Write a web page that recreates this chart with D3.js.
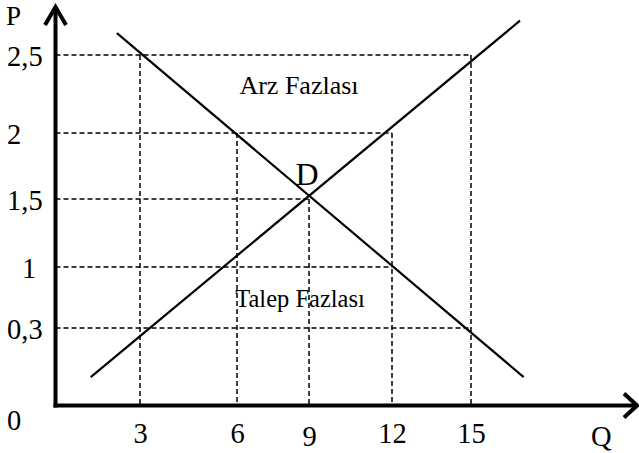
<!DOCTYPE html>
<html>
<head>
<meta charset="utf-8">
<script src="https://cdn.jsdelivr.net/npm/d3@7/dist/d3.min.js"></script>
<style>
  html, body { margin: 0; padding: 0; background: #fff; }
  svg { display: block; }
  text { font-family: "Liberation Serif", "Times New Roman", serif; fill: #000; }
</style>
</head>
<body>
<svg id="chart" width="639" height="453"></svg>
<script>
// ---- data ----
const quantities = [3, 6, 9, 12, 15];
const quantityLabels = ["3", "6", "9", "12", "15"];
const prices = [0.3, 1, 1.5, 2, 2.5];
const priceLabels = ["0,3", "1", "1,5", "2", "2,5"];
// horizontal dashed guides: each price runs out to this quantity
const priceGuideQ = [15, 12, 9, 12, 15];
// vertical dashed guides: each quantity runs up to this price
const quantityGuideP = [2.5, 2, 1.5, 2, 2.5];
// demand (falling) and supply (rising) lines: [Q, P] end points
const demand = [[2.18, 2.64], [17.0, 0.11]];
const supply = [[1.25, 0.11], [16.86, 2.72]];
const equilibrium = [9, 1.5];

// ---- scales (hand-drawn, unevenly spaced grid) ----
const x = d3.scaleLinear().domain([0, 3, 6, 9, 12, 15]).range([55.5, 140, 237, 309, 392, 471]);
const y = d3.scaleLinear().domain([0, 0.3, 1, 1.5, 2, 2.5]).range([405.5, 328, 267, 199, 133, 55]);

const svg = d3.select("#chart");

// dashed guides
const dash = svg.append("g")
  .attr("stroke", "#000").attr("stroke-width", 1.5)
  .attr("stroke-dasharray", "5,3").attr("fill", "none");
prices.forEach((p, i) => {
  dash.append("line")
    .attr("x1", x(0)).attr("x2", x(priceGuideQ[i]))
    .attr("y1", y(p)).attr("y2", y(p));
});
quantities.forEach((q, i) => {
  dash.append("line")
    .attr("x1", x(q)).attr("x2", x(q))
    .attr("y1", y(quantityGuideP[i])).attr("y2", y(0));
});

// demand & supply
const line = d3.line().x(d => x(d[0])).y(d => y(d[1]));
[demand, supply].forEach(d => {
  svg.append("path").attr("d", line(d))
    .attr("fill", "none").attr("stroke", "#000").attr("stroke-width", 2.2);
});

// axes (thick lines + open arrowheads)
const axes = svg.append("g").attr("stroke", "#000").attr("stroke-width", 4)
  .attr("fill", "none").attr("stroke-linecap", "butt");
axes.append("line").attr("x1", x(0)).attr("x2", x(0)).attr("y1", y(0) + 2).attr("y2", 7);
axes.append("line").attr("x1", x(0) - 2).attr("x2", 636).attr("y1", y(0)).attr("y2", y(0));
axes.append("polyline").attr("points", `${x(0) - 10.5},25 ${x(0)},7 ${x(0) + 10.5},25`)
  .attr("stroke-linejoin", "miter");
axes.append("polyline").attr("points", `624,${y(0) - 12} 637,${y(0)} 624,${y(0) + 12}`)
  .attr("stroke-linejoin", "miter");

// y tick labels via d3 axis
const yAxis = svg.append("g").attr("transform", `translate(${x(0)},0)`)
  .call(d3.axisLeft(y).tickValues(prices).tickSize(0)
    .tickFormat((d, i) => priceLabels[i]));
yAxis.select(".domain").remove();
yAxis.selectAll("text")
  .attr("font-family", "Liberation Serif").attr("font-size", 28.5)
  .attr("text-anchor", "start")
  .attr("x", d => (d === 1 ? 22 : 7) - x(0))
  .attr("dy", "0.36em");

// x tick labels via d3 axis
const xAxis = svg.append("g").attr("transform", `translate(0,${y(0)})`)
  .call(d3.axisBottom(x).tickValues(quantities).tickSize(0)
    .tickFormat((d, i) => quantityLabels[i]));
xAxis.select(".domain").remove();
xAxis.selectAll("text")
  .attr("font-family", "Liberation Serif").attr("font-size", 28.5)
  .attr("y", d => (d === 9 ? 40 : 37.5)).attr("dy", 0);

// axis titles and annotations
svg.append("text").attr("x", 6).attr("y", 25).attr("font-size", 27).text("P");
svg.append("text").attr("x", 591).attr("y", 446).attr("font-size", 28.5).text("Q");
svg.append("text").attr("x", 7).attr("y", 430).attr("font-size", 28.5).text("0");
svg.append("text").attr("x", x(equilibrium[0]) - 2).attr("y", y(equilibrium[1]) - 14)
  .attr("font-size", 32).attr("text-anchor", "middle").text("D");
svg.append("text").attr("x", 299).attr("y", 94).attr("font-size", 26)
  .attr("text-anchor", "middle").text("Arz Fazlası");
svg.append("text").attr("x", 300).attr("y", 307).attr("font-size", 24.5)
  .attr("text-anchor", "middle").text("Talep Fazlası");
</script>
</body>
</html>
